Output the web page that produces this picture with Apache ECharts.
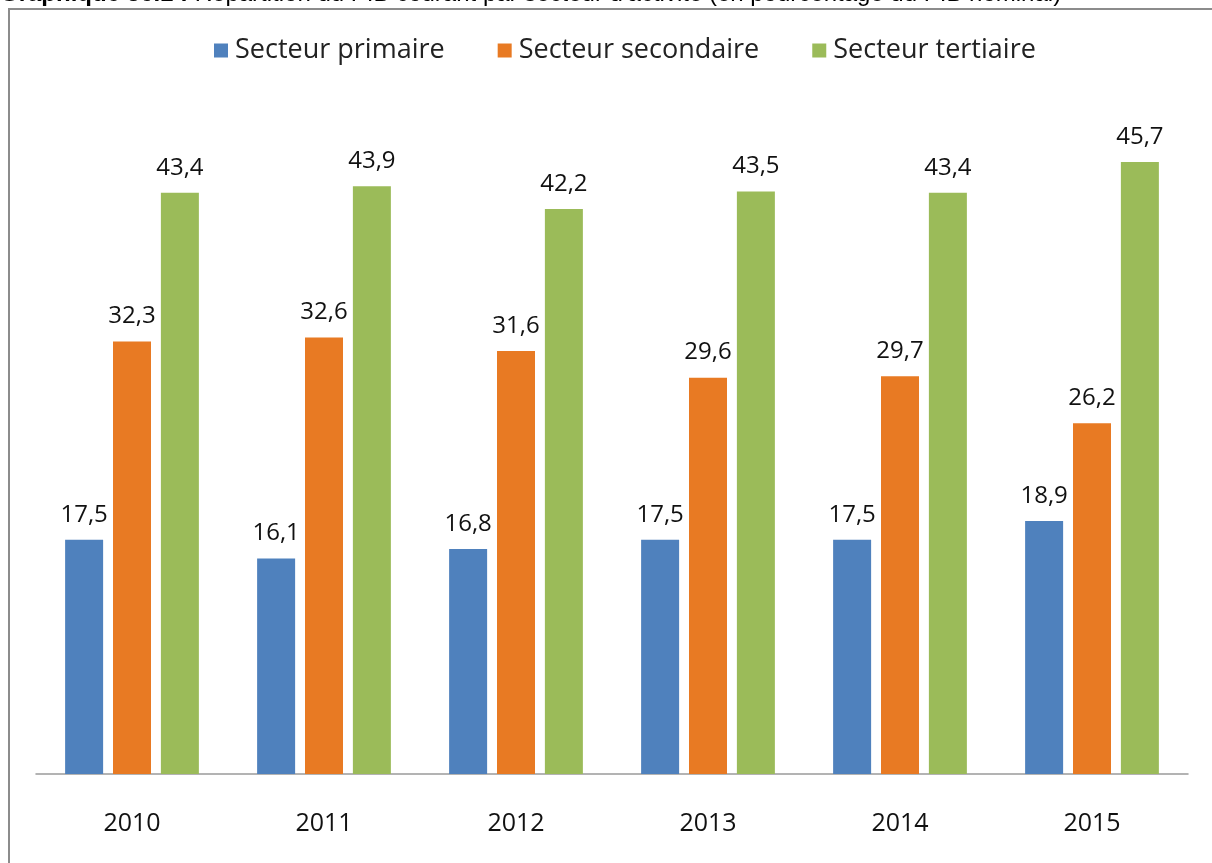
<!DOCTYPE html>
<html>
<head>
<meta charset="utf-8">
<script src="https://cdn.jsdelivr.net/npm/echarts@6/dist/echarts.min.js"></script>
<style>
  html, body { margin: 0; padding: 0; background: #fff; }
  #chart { width: 1212px; height: 863px; }
</style>
</head>
<body>
<div id="chart"></div>
<script>
// années
var years = ['2010', '2011', '2012', '2013', '2014', '2015'];
// parts du PIB nominal (%)
var primaire = [17.5, 16.1, 16.8, 17.5, 17.5, 18.9];
var secondaire = [32.3, 32.6, 31.6, 29.6, 29.7, 26.2];
var tertiaire = [43.4, 43.9, 42.2, 43.5, 43.4, 45.7];
var seriesNames = ['Secteur primaire', 'Secteur secondaire', 'Secteur tertiaire'];
var colorList = ['#4F81BD', '#E87A23', '#9BBB59'];

var font = '"Open Sans", "Noto Sans", sans-serif';

function makeBar(name, data, color) {
  return {
    name: name,
    type: 'bar',
    data: data,
    barWidth: 38,
    barGap: '26%',
    itemStyle: { color: color },
    label: {
      show: true,
      position: 'top',
      distance: 13,
      fontFamily: font,
      fontSize: 24,
      color: '#111',
      formatter: function (p) { return String(p.value).replace('.', ','); }
    }
  };
}

var chart = echarts.init(document.getElementById('chart'));
chart.setOption({
  animation: false,
  backgroundColor: '#fff',
  color: colorList,
  graphic: [
    {
      type: 'rect',
      shape: { x: 9, y: 9, width: 1220, height: 870 },
      style: { fill: 'none', stroke: '#8c8c8c', lineWidth: 2 },
      silent: true
    },
    {
      type: 'text',
      left: 0,
      top: -18,
      style: {
        text: '{b|Graphique 36.1 :} Répartition du PIB courant par secteur d\'activité (en pourcentage du PIB nominal)',
        font: '24px "Liberation Sans", Arial, sans-serif',
        fill: '#000',
        rich: { b: { fontWeight: 'bold', fontSize: 24, fontFamily: '"Liberation Sans", Arial, sans-serif' } }
      }
    }
  ],
  legend: {
    left: 209,
    top: 32,
    itemWidth: 14,
    itemHeight: 14,
    itemGap: 53,
    icon: 'rect',
    textStyle: { fontFamily: font, fontSize: 27, color: '#222', padding: [0, 0, 0, 2] },
    data: seriesNames
  },
  grid: { left: 36, right: 24, top: 104.5, bottom: 89 },
  xAxis: {
    type: 'category',
    data: years,
    axisLine: { lineStyle: { color: '#9a9a9a', width: 1.5 } },
    axisTick: { show: false },
    axisLabel: { fontFamily: font, fontSize: 25, color: '#111', margin: 37 }
  },
  yAxis: {
    type: 'value',
    min: 0,
    max: 50,
    show: false,
    splitLine: { show: false }
  },
  series: [
    makeBar(seriesNames[0], primaire, colorList[0]),
    makeBar(seriesNames[1], secondaire, colorList[1]),
    makeBar(seriesNames[2], tertiaire, colorList[2])
  ]
});
</script>
</body>
</html>
